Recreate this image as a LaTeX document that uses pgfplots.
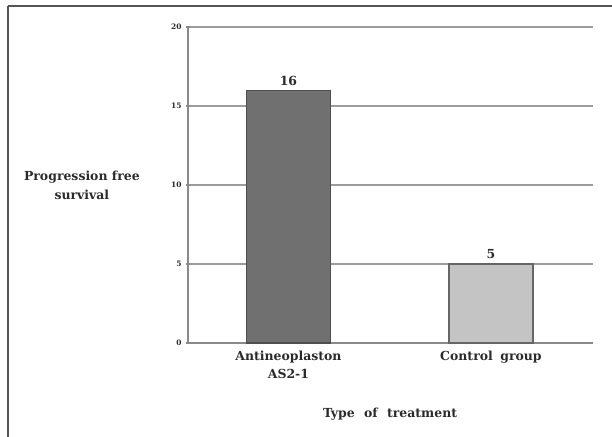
\documentclass[border=0pt]{standalone}
\usepackage{pgfplots}
\pgfplotsset{compat=1.18}
\usepackage{fontspec}
\setmainfont{DejaVu Serif}

\definecolor{gridgray}{HTML}{9C9C9C}
\definecolor{axisgray}{HTML}{8A8A8A}
\definecolor{darkbar}{HTML}{707070}
\definecolor{darkedge}{HTML}{4E4E4E}
\definecolor{lightbar}{HTML}{C4C4C4}
\definecolor{lightedge}{HTML}{666666}
\definecolor{framegray}{HTML}{555555}
\definecolor{textgray}{HTML}{2A2A2A}

\begin{document}
\begin{tikzpicture}
% page area
\useasboundingbox (0,0) rectangle (612bp,-437bp);
% frame: top and left edges
\draw[framegray, line width=2bp] (8bp,-6bp) -- (612bp,-6bp);
\draw[framegray, line width=2bp] (8bp,-6bp) -- (8bp,-437bp);

\begin{axis}[
  at={(188bp,-343bp)}, anchor=south west,
  scale only axis,
  width=405bp, height=316bp,
  xmin=-0.496, xmax=1.504,
  ymin=0, ymax=20,
  ytick={0,5,10,15,20},
  xtick={0,1},
  xticklabels={{Antineoplaston\\AS2-1},{Control\hspace{0.6em}group}},
  /pgf/number format/assume math mode=true,
  every tick label/.append style={text=textgray},
  x tick label style={align=center, font=\fontsize{12.5}{18}\selectfont\bfseries, yshift=-1bp},
  y tick label style={font=\fontsize{7.5}{8}\selectfont\bfseries, xshift=-1bp},
  major x tick style={draw=none},
  major y tick style={axisgray, line width=1.2bp},
  tick align=outside,
  major tick length=4bp,
  axis x line=bottom, axis y line=left,
  axis line style={axisgray, line width=2.2bp, -},
  ymajorgrids,
  grid style={gridgray, line width=2.6bp},
  ylabel={Progression free\\survival},
  ylabel style={rotate=-90, align=center, text=textgray,
    font=\fontsize{12.5}{19}\selectfont\bfseries,
    at={(axis description cs:-0.262,0.5)}, anchor=center},
  xlabel={Type\hspace{0.75em}of\hspace{0.75em}treatment},
  xlabel style={text=textgray, font=\fontsize{12.5}{16}\selectfont\bfseries,
    at={(axis description cs:0.499,-0.224)}, anchor=center},
  ybar, bar width=84bp,
  nodes near coords,
  every node near coord/.append style={text=textgray,
    font=\fontsize{12.5}{16}\selectfont\bfseries, yshift=1bp},
  clip=false,
]
\addplot[bar shift=0pt, fill=darkbar, draw=darkedge, line width=1.2bp] coordinates {(0,16)};
\addplot[bar shift=0pt, fill=lightbar, draw=lightedge, line width=1.2bp] coordinates {(1,5)};
\end{axis}
\end{tikzpicture}
\end{document}
